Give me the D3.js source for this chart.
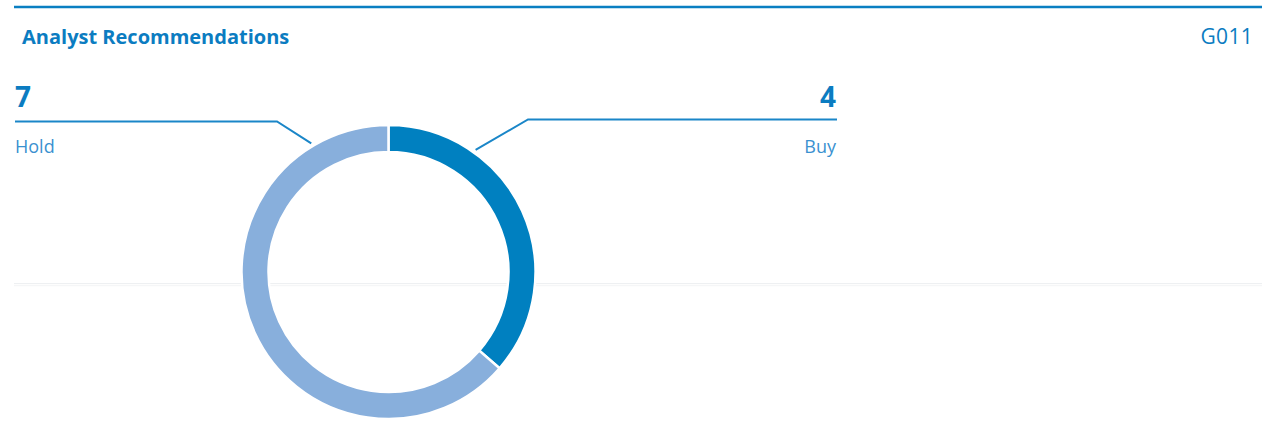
<!DOCTYPE html>
<html>
<head>
<meta charset="utf-8">
<script src="https://cdn.jsdelivr.net/npm/d3@7"></script>
<style>
  html, body { margin: 0; padding: 0; background: #fff; }
  svg { display: block; font-family: "Open Sans", Lato, sans-serif; }
</style>
</head>
<body>
<svg id="chart" width="1262" height="422"></svg>
<script>
const title = 'Analyst Recommendations'
const code = 'G011'
const categories = ['Buy', 'Hold']
const counts = [4, 7]
const colors = ['#0080c0', '#88afdc']

const width = 1262, height = 422
const svg = d3.select('#chart')

// header rule + titles
svg.append('line')
    .attr('x1', 14).attr('x2', width)
    .attr('y1', 7).attr('y2', 7)
    .attr('stroke', '#0a7fc2').attr('stroke-width', 2.5)

svg.append('text')
    .text(title)
    .attr('x', 22).attr('y', 44)
    .attr('font-size', 20).attr('font-weight', 700)
    .attr('fill', '#0b7cc1')

svg.append('text')
    .text(code)
    .attr('x', 1253).attr('y', 44)
    .attr('text-anchor', 'end')
    .attr('font-size', 21)
    .attr('letter-spacing', 0.3)
    .attr('fill', '#0b7cc1')

// faint panel edge behind the donut
svg.append('line')
    .attr('x1', 14).attr('x2', width)
    .attr('y1', 283.5).attr('y2', 283.5)
    .attr('stroke', '#eef0f2').attr('stroke-width', 1)
svg.append('line')
    .attr('x1', 14).attr('x2', width)
    .attr('y1', 285.5).attr('y2', 285.5)
    .attr('stroke', '#f5f6f7').attr('stroke-width', 1.5)

// donut
const cx = 388.5, cy = 272
const outer = 147, inner = 120
const data = categories.map((c, i) => ({name: c, value: counts[i], color: colors[i]}))

const pie = d3.pie().value(d => d.value).sort(null)
const arc = d3.arc().innerRadius(inner).outerRadius(outer)

const g = svg.append('g').attr('transform', `translate(${cx},${cy})`)
g.selectAll('path')
    .data(pie(data))
    .join('path')
    .attr('d', arc)
    .attr('fill', d => d.data.color)
    .attr('stroke', '#fff')
    .attr('stroke-width', 2.5)

// labels with leader lines
const labels = [
    {i: 1, angle: -31, side: 'left', lineX: 15, elbowX: 277, lineY: 121.5},
    {i: 0, angle: 35.5, side: 'right', lineX: 837, elbowX: 528, lineY: 119.5}
]
labels.forEach(l => {
    const a = l.angle * Math.PI / 180
    const r = outer + 3
    const px = cx + r * Math.sin(a), py = cy - r * Math.cos(a)
    svg.append('path')
        .attr('d', d3.line()([[l.lineX, l.lineY], [l.elbowX, l.lineY], [px, py]]))
        .attr('fill', 'none')
        .attr('stroke', '#1a86c8')
        .attr('stroke-width', 2)
    const tx = l.side === 'left' ? 15 : 836
    const anchor = l.side === 'left' ? 'start' : 'end'
    svg.append('text')
        .text(counts[l.i])
        .attr('x', tx).attr('y', 107)
        .attr('text-anchor', anchor)
        .attr('font-size', 28).attr('font-weight', 700)
        .attr('fill', '#0b7cc1')
    svg.append('text')
        .text(categories[l.i])
        .attr('x', tx).attr('y', 152.5)
        .attr('text-anchor', anchor)
        .attr('font-size', 18)
        .attr('fill', '#3a91d0')
})
</script>
</body>
</html>
